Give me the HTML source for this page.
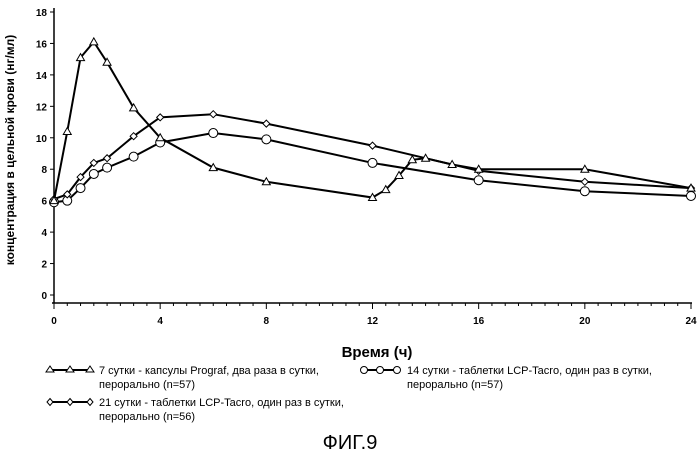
<!DOCTYPE html>
<html><head><meta charset="utf-8"><style>
body{margin:0;background:#fff;}
svg text{font-family:"Liberation Sans",Arial,sans-serif;fill:#000;}
</style></head><body>
<svg width="700" height="458" viewBox="0 0 700 458" xmlns="http://www.w3.org/2000/svg">
<g id="axes"></g>
<g id="series"></g>
<text x="377" y="357" font-size="15" font-weight="bold" text-anchor="middle">Время (ч)</text>
<text transform="translate(14,150) rotate(-90)" font-size="12" font-weight="bold" text-anchor="middle">концентрация в цельной крови (нг/мл)</text>
<g font-size="11">
 <g>
  <line x1="50" y1="370" x2="90" y2="370" stroke="#000" stroke-width="2"/>
  <path d="M50,366 L54,372 L46,372 Z M70,366 L74,372 L66,372 Z M90,366 L94,372 L86,372 Z" fill="#fff" stroke="#000"/>
  <text x="99" y="374">7 сутки - капсулы Prograf, два раза в сутки,</text>
  <text x="99" y="388">перорально (n=57)</text>
 </g>
 <g>
  <line x1="364" y1="370" x2="397" y2="370" stroke="#000" stroke-width="2"/>
  <circle cx="364" cy="370" r="3.5" fill="#fff" stroke="#000"/><circle cx="380" cy="370" r="3.5" fill="#fff" stroke="#000"/><circle cx="397" cy="370" r="3.5" fill="#fff" stroke="#000"/>
  <text x="407" y="374">14 сутки - таблетки LCP-Tacro, один раз в сутки,</text>
  <text x="407" y="388">перорально (n=57)</text>
 </g>
 <g>
  <line x1="50" y1="402" x2="90" y2="402" stroke="#000" stroke-width="2"/>
  <path d="M50,398.5 L53,402 L50,405.5 L47,402 Z M70,398.5 L73,402 L70,405.5 L67,402 Z M90,398.5 L93,402 L90,405.5 L87,402 Z" fill="#fff" stroke="#000"/>
  <text x="99" y="406">21 сутки - таблетки LCP-Tacro, один раз в сутки,</text>
  <text x="99" y="420">перорально (n=56)</text>
 </g>
</g>
<text x="350" y="449" font-size="20" text-anchor="middle">ФИГ.9</text>
<script>
const xTicks=[0,4,8,12,16,20,24];
const yTicks=[0,2,4,6,8,10,12,14,16,18];
const progrTimes=[0,0.5,1,1.5,2,3,4,6,8,12,12.5,13,13.5,14,15,16,20,24];
const progrValues=[6.0,10.4,15.1,16.1,14.8,11.9,10.0,8.1,7.2,6.2,6.7,7.6,8.6,8.7,8.3,8.0,8.0,6.8];
const d21Times=[0,0.5,1,1.5,2,3,4,6,8,12,16,20,24];
const d21Values=[6.1,6.4,7.5,8.4,8.7,10.1,11.3,11.5,10.9,9.5,7.9,7.2,6.8];
const d14Times=[0,0.5,1,1.5,2,3,4,6,8,12,16,20,24];
const d14Values=[5.9,6.0,6.8,7.7,8.1,8.8,9.7,10.3,9.9,8.4,7.3,6.6,6.3];
const NS="http://www.w3.org/2000/svg";
const X=t=>54+t*(637/24);
const Y=v=>295-v*(283/18);
function mk(tag,attrs,parent){const e=document.createElementNS(NS,tag);for(const k in attrs)e.setAttribute(k,attrs[k]);parent.appendChild(e);return e;}
const ax=document.getElementById('axes');
let yl=mk('line',{x1:54,y1:Y(18)-4,x2:54,y2:303,stroke:'#000','stroke-width':1.5},ax);


let xl=mk('line',{x1:52,y1:303,x2:X(24)+1,y2:303,stroke:'#000','stroke-width':1.5},ax);


yTicks.forEach(v=>{
 mk('line',{x1:50,y1:Y(v),x2:54,y2:Y(v),stroke:'#000'},ax);
 const t=mk('text',{x:47,y:Y(v)+4,'font-size':10,'font-weight':'bold','text-anchor':'end'},ax);
 t.textContent=v;
 
 
});
for(let h=0;h<=24;h+=0.5){mk('line',{x1:X(h),y1:303,x2:X(h),y2:(h%4===0?309:306),stroke:'#000'},ax);}
xTicks.forEach(h=>{
 const t=mk('text',{x:X(h),y:324,'font-size':10,'font-weight':'bold','text-anchor':'middle'},ax);
 t.textContent=h;
 
 
});
const sg=document.getElementById('series');
function series(ts,vs,marker,name){
 const g=mk('g',{},sg);
 
 
 mk('polyline',{points:ts.map((t,i)=>X(t)+','+Y(vs[i])).join(' '),fill:'none',stroke:'#000','stroke-width':2},g);
 ts.forEach((t,i)=>{
  const x=X(t),y=Y(vs[i]);let m;
  if(marker==='tri')m=mk('path',{d:`M${x},${y-4} L${x+4},${y+3} L${x-4},${y+3} Z`,fill:'#fff',stroke:'#000'},g);
  else if(marker==='circ')m=mk('circle',{cx:x,cy:y,r:4.5,fill:'#fff',stroke:'#000'},g);
  else m=mk('path',{d:`M${x},${y-3.5} L${x+3.5},${y} L${x},${y+3.5} L${x-3.5},${y} Z`,fill:'#fff',stroke:'#000'},g);
  
  
 });
}
series(d14Times,d14Values,'circ','series-day14');
series(d21Times,d21Values,'dia','series-day21');
series(progrTimes,progrValues,'tri','series-prograf');
</script>
</svg>
</body></html>
